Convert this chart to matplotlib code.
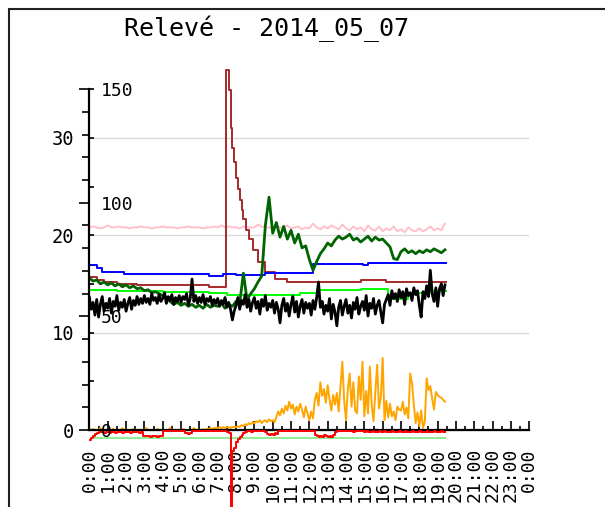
import numpy as np
import matplotlib
matplotlib.use("Agg")
import matplotlib.pyplot as plt
from matplotlib.patches import Rectangle

#---data (hours / values)---#
title = "Relevé - 2014_05_07"
hour_ticks = list(range(0, 25))
hour_labels = ["%d:00" % (h % 24) for h in hour_ticks]

# 6 minute samples, 0h -> 19.4h
black_v = [13.6, 12.4, 13.1, 11.8, 13.4, 11.6, 12.9, 13.7, 12.2, 13.0,
           12.5, 13.5, 12.0, 13.2, 12.7, 13.8, 12.3, 13.1, 12.6, 13.4,
           12.2, 13.0, 13.6, 12.4, 13.3, 12.8, 13.7, 12.9, 13.5, 13.0,
           13.8, 13.1, 13.5, 12.9, 14.0, 13.3, 13.6, 13.0, 13.9, 13.2,
           13.5, 14.1, 13.0, 13.7, 13.3, 13.9, 12.9, 13.6, 13.2, 13.8,
           13.1, 13.7, 13.4, 14.0, 12.8, 13.5, 15.5, 13.2, 13.8, 13.0,
           13.6, 13.1, 13.9, 12.9, 13.5, 13.2, 13.7, 12.8, 13.4, 13.0,
           13.5, 12.7, 13.3, 12.9, 13.6, 12.6, 13.1, 12.4, 11.3, 12.2,
           12.8, 13.6, 12.4, 13.3, 12.9, 13.9, 12.6, 13.4, 12.2, 13.1,
           13.6, 12.5, 13.2, 11.9, 13.4, 12.7, 13.8, 12.3, 13.0, 12.6,
           13.3, 12.0, 13.1, 12.4, 11.0, 12.8, 13.5, 12.2, 13.0, 11.7,
           12.9, 13.7, 12.1, 13.2, 11.6, 12.7, 13.4, 12.0, 13.1, 12.5,
           13.0, 11.8, 13.3, 12.4, 13.6, 15.2, 12.6, 13.2, 11.9, 12.8,
           12.2, 13.5, 11.4, 12.9, 12.1, 10.7, 12.6, 13.3, 11.8, 12.7,
           13.4, 12.0, 12.8, 11.5, 13.1, 12.4, 13.6, 11.9, 12.7, 13.2,
           12.3, 13.8, 11.7, 13.0, 12.5, 13.5, 11.9, 12.8, 13.3, 12.1,
           11.0, 12.9, 13.4, 13.9, 12.8, 14.3, 13.5, 14.0, 13.2, 14.4,
           13.6, 14.2, 12.9, 14.5, 13.8, 14.1, 13.3, 14.6, 13.9, 14.3,
           12.8, 11.6, 14.2, 13.5, 14.8, 13.7, 16.4, 14.0, 13.2, 14.6,
           12.7, 14.5, 15.0, 13.8, 14.9]

orange_v = [0, 0, 0.1, 0, 0, 0, 0.2, 0, 0, 0,
            0, 0, 0, 0.1, 0, 0, 0, 0, 0.2, 0,
            0, 0, 0, 0, 0.1, 0, 0, 0, 0, 0,
            0, 0.2, 0, 0, 0, 0, 0, 0.1, 0, 0,
            0, 0, 0, 0, 0.2, 0, 0, 0, 0, 0,
            0, 0.1, 0, 0, 0, 0, 0, 0.2, 0, 0,
            0, 0, 0.1, 0, 0.1, 0.1, 0.2, 0.1, 0.2, 0.2,
            0.2, 0.3, 0.2, 0.3, 0.2, 0.3, 0.3, 0.2, 0.3, 0.3,
            0.3, 0.4, 0.3, 0.5, 0.4, 0.6, 0.5, 0.7, 0.6, 0.8,
            0.7, 0.9, 0.8, 1.0, 0.7, 0.9, 1.0, 0.8, 1.1, 0.9,
            1.0, 0.8, 1.3, 1.9, 1.5, 2.2, 1.7, 2.5, 2.0, 2.9,
            2.2, 2.6, 1.6, 2.4, 1.9, 2.7, 2.1, 1.3, 2.4, 1.7,
            1.0, 1.9, 1.2, 3.1, 3.8, 2.5, 4.9, 3.5, 4.2, 2.8,
            4.6, 3.2, 2.0, 3.6, 2.6, 3.8, 1.9, 4.4, 7.0, 3.0,
            1.0, 4.2, 5.8, 2.4, 4.9, 2.0, 1.7, 5.5, 3.1, 7.0,
            1.4, 4.0, 1.7, 6.5, 2.6, 0.9, 3.9, 6.7, 2.2, 3.4,
            7.4, 1.0, 3.0, 1.3, 2.7, 1.4, 1.9, 1.0, 2.4, 2.1,
            2.0, 2.9, 1.6, 2.3, 1.2, 5.8, 4.8, 2.6, 0.7, 1.8,
            0.4, 2.0, 0.2, 0.9, 5.3, 4.1, 4.5, 3.2, 2.1, 3.9,
            3.6, 3.4, 3.3, 3.1, 2.9]

red_v = [-1.0, -0.8, -0.6, -0.4, -0.3, -0.2, -0.2, -0.2, -0.3, -0.2,
         -0.2, -0.3, -0.2, -0.2, -0.3, -0.2, -0.2, -0.2, -0.3, -0.2,
         -0.2, -0.2, -0.3, -0.2, -0.2, -0.2, -0.2, -0.3, -0.2, -0.6,
         -0.6, -0.6, -0.6, -0.7, -0.6, -0.6, -0.6, -0.7, -0.6, -0.6,
         -0.1, -0.1, -0.1, -0.1, -0.1, -0.1, -0.1, -0.1, -0.1, -0.1,
         -0.1, -0.1, -0.3, -0.3, -0.4, -0.3, -0.1, -0.1, -0.1, -0.1,
         -0.1, -0.1, -0.1, -0.1, -0.1, -0.1, -0.1, -0.1, -0.1, -0.1,
         -0.1, -0.1, -0.1, -0.1, -0.1, -0.2, -0.3, -12.0, -2.2, -1.8,
         -1.2, -0.9, -0.7, -0.5, -0.3, -0.2, -0.1, -0.1, -0.2, -0.1,
         -0.1, -0.1, -0.1, -0.1, -0.1, -0.1, -0.2, -0.4, -0.5, -0.4,
         -0.5, -0.3, -0.4, -0.1, -0.1, -0.1, -0.1, -0.1, -0.1, -0.1,
         -0.1, -0.1, -0.1, -0.1, -0.1, -0.1, -0.1, -0.1, -0.1, -0.1,
         -0.1, -0.1, -0.1, -0.5, -0.6, -0.7, -0.6, -0.7, -0.5, -0.6,
         -0.7, -0.6, -0.7, -0.5, -0.2, -0.1, -0.1, -0.1, -0.1, -0.1,
         -0.1, -0.1, -0.1, -0.1, -0.2, -0.1, -0.1, -0.1, -0.1, -0.1,
         -0.2, -0.1, -0.2, -0.2, -0.1, -0.2, -0.2, -0.2, -0.1, -0.2,
         -0.2, -0.1, -0.2, -0.2, -0.2, -0.1, -0.2, -0.2, -0.2, -0.1,
         -0.2, -0.2, -0.1, -0.2, -0.2, -0.2, -0.1, -0.2, -0.2, -0.2,
         -0.1, -0.2, -0.2, -0.2, -0.1, -0.2, -0.2, -0.2, -0.1, -0.2,
         -0.2, -0.2, -0.1, -0.2, -0.2]

# 12 minute samples, 0h -> 19.4h
dkgreen_v = [15.6, 15.3, 15.4, 15.0, 15.2, 14.9, 15.1, 14.8, 15.0, 14.7,
             14.9, 14.6, 14.8, 14.5, 14.6, 14.3, 14.4, 14.1, 14.2, 14.0,
             13.8, 13.6, 13.2, 12.9, 13.1, 12.8, 13.0, 12.7, 12.9, 12.6,
             12.8, 12.5, 12.9, 12.6, 12.8, 12.7, 13.0, 12.5, 12.9, 12.7,
             13.2, 13.0, 16.1, 13.4, 14.0, 14.5, 15.2, 15.8, 21.0, 23.9,
             20.2, 21.3, 19.8, 20.9, 19.6, 20.5, 19.2, 20.1, 18.7, 18.9,
             17.5, 16.4, 17.3, 18.1, 18.6, 19.2, 18.9, 19.5, 19.9, 19.6,
             19.8, 20.1, 19.5, 19.7, 19.3, 19.6, 19.9, 19.4, 19.8, 19.5,
             19.6, 19.2, 18.8, 17.6, 17.5, 18.3, 18.6, 18.2, 18.4, 18.1,
             18.4, 18.2, 18.5, 18.3, 18.6, 18.4, 18.2, 18.5]

pink_v = [20.8, 20.9, 20.8, 20.7, 20.8, 21.0, 20.8, 20.8, 20.9, 20.8,
          20.8, 20.7, 20.8, 20.8, 20.9, 20.8, 20.8, 20.7, 20.8, 20.8,
          20.9, 20.8, 20.8, 20.8, 20.7, 20.8, 20.8, 20.9, 20.8, 20.8,
          20.8, 20.7, 20.8, 20.8, 20.9, 20.8, 21.0, 20.8, 20.9, 20.8,
          20.8, 20.7, 20.9, 20.8, 20.8, 20.8, 21.1, 20.9, 20.8, 20.8,
          20.7, 20.9, 20.8, 20.8, 21.0, 20.7, 20.8, 20.9, 20.6, 20.8,
          20.7, 21.2, 20.8, 20.6, 20.9, 20.7, 21.0, 20.8, 20.6, 21.1,
          20.7, 20.5, 20.9, 20.6, 20.8, 20.4, 21.0, 20.6, 20.5, 20.9,
          20.4, 20.7, 20.5, 20.9, 20.4, 20.6, 20.3, 20.8, 20.5, 20.4,
          20.7, 20.4, 20.6, 20.9, 20.5, 20.7, 20.5, 21.2]

# slow series, given as (hour, value) break points
brown_h = [0.0, 0.4, 0.8, 1.5, 2.6, 6.5, 7.47, 7.62, 7.72, 7.8, 7.9, 8.0, 8.1,
           8.2, 8.3, 8.4, 8.55, 8.7, 8.9, 9.2, 9.6, 10.1, 10.8, 14.8, 16.2, 19.45]
brown_v = [15.7, 15.4, 15.2, 15.0, 14.9, 14.7, 37.0, 34.9, 31.0, 29.0, 27.5, 25.9, 24.7,
           23.6, 22.6, 21.7, 20.5, 19.6, 18.5, 17.2, 16.2, 15.5, 15.2, 15.4, 15.2, 15.2]

blue_h = [0.0, 0.4, 0.7, 1.9, 6.5, 7.3, 8.0, 9.6, 12.2, 14.9, 15.2, 19.45]
blue_v = [16.9, 16.6, 16.2, 16.0, 15.8, 16.0, 15.9, 16.1, 17.0, 16.9, 17.1, 17.1]

lime_h = [0.0, 1.5, 4.0, 6.5, 7.5, 9.4, 11.5, 12.4, 14.8, 16.3, 17.4, 18.6, 19.45]
lime_v = [14.4, 14.3, 14.2, 14.1, 13.9, 13.9, 14.1, 14.4, 14.5, 13.4, 14.1, 14.3, 14.3]

palegreen_h = [0.3, 19.4]
palegreen_v = [-0.85, -0.85]

t6 = np.arange(len(black_v)) / 10.0
t12 = np.arange(len(dkgreen_v)) / 5.0

#---figure---#
W, H = 605, 507
fig = plt.figure(figsize=(W / 100, H / 100), dpi=100)
mono = "DejaVu Sans Mono"

# axes: x 0h at 89px, 24h at 529px ; y=0 at 430px, 9.74 px per unit
ax = fig.add_axes([89.4 / W, 0, (529.3 - 89.4) / W, 1])
ymin = -(H - 430) / 9.74
ymax = 430 / 9.74
ax.set_xlim(0, 24)
ax.set_ylim(ymin, ymax)
ax.patch.set_visible(False)

lw = 1.4
ax.plot(t12, pink_v, color="pink", lw=lw)
ax.plot(brown_h, brown_v, color="#a52a2a", lw=lw, drawstyle="steps-post")
ax.plot(blue_h, blue_v, color="blue", lw=lw, drawstyle="steps-post")
ax.plot(lime_h, lime_v, color="#00ff00", lw=lw, drawstyle="steps-post")
ax.plot(t12, dkgreen_v, color="#006400", lw=2.0)
ax.plot(t6, black_v, color="black", lw=2.0)
ax.plot(t6, orange_v, color="orange", lw=lw)
ax.plot(palegreen_h, palegreen_v, color="#90ee90", lw=lw)
ax.plot(t6, red_v, color="red", lw=lw, drawstyle="steps-post", zorder=3)

# spines
for s in ["top", "right"]:
    ax.spines[s].set_visible(False)
ax.spines["bottom"].set_position(("data", 0))
ax.spines["left"].set_bounds(0, 35)
ax.spines["left"].set_linewidth(1.6)
ax.spines["bottom"].set_linewidth(1.6)

# x axis
ax.set_xticks(hour_ticks)
ax.set_xticklabels(hour_labels, rotation=90, fontfamily=mono, fontsize=13)
ax.set_xticks(np.arange(0.5, 24, 1.0), minor=True)
ax.tick_params(axis="x", which="major", direction="in", length=6.5, width=1.2, pad=13)
ax.tick_params(axis="x", which="minor", direction="in", length=3.2, width=1.2)

# primary y axis
ax.set_yticks([0, 10, 20, 30])
ax.set_yticklabels(["0", "10", "20", "30"], fontfamily=mono, fontsize=13.5)
ax.set_yticks([5, 15, 25, 35], minor=True)
ax.tick_params(axis="y", which="both", direction="in", length=3.6, width=1.2, pad=11)
ax.yaxis.grid(True, which="major", color="#d9d9d9", lw=1)
ax.set_axisbelow(True)

# secondary y axis, same spine
ax2 = ax.twinx()
ax2.set_ylim(ymin * 150 / 35, ymax * 150 / 35)
for s in ax2.spines.values():
    s.set_visible(False)
ax2.yaxis.tick_left()
ax2.tick_params(axis="y", which="major", direction="out", length=7.2, width=1.2, pad=-15.2)
ax2.tick_params(axis="y", which="minor", direction="out", length=4.8, width=1.2)
ax2.set_yticks([0, 50, 100, 150], labels=["0", "50", "100", "150"],
               fontfamily=mono, fontsize=13, ha="left")
ax2.set_yticks([v for v in range(10, 150, 10) if v % 50 != 0], minor=True)

# title and outer frame
fig.text(266 / W, 1 - 29 / H, title, ha="center", va="center",
         fontfamily=mono, fontsize=18)
fig.patches.append(Rectangle((8.5 / W, -0.5), 2, 1 - 8.5 / H + 0.5,
                             transform=fig.transFigure, fill=False,
                             edgecolor="#222222", lw=1.5, clip_on=False))

fig.savefig("out.png", dpi=100)
